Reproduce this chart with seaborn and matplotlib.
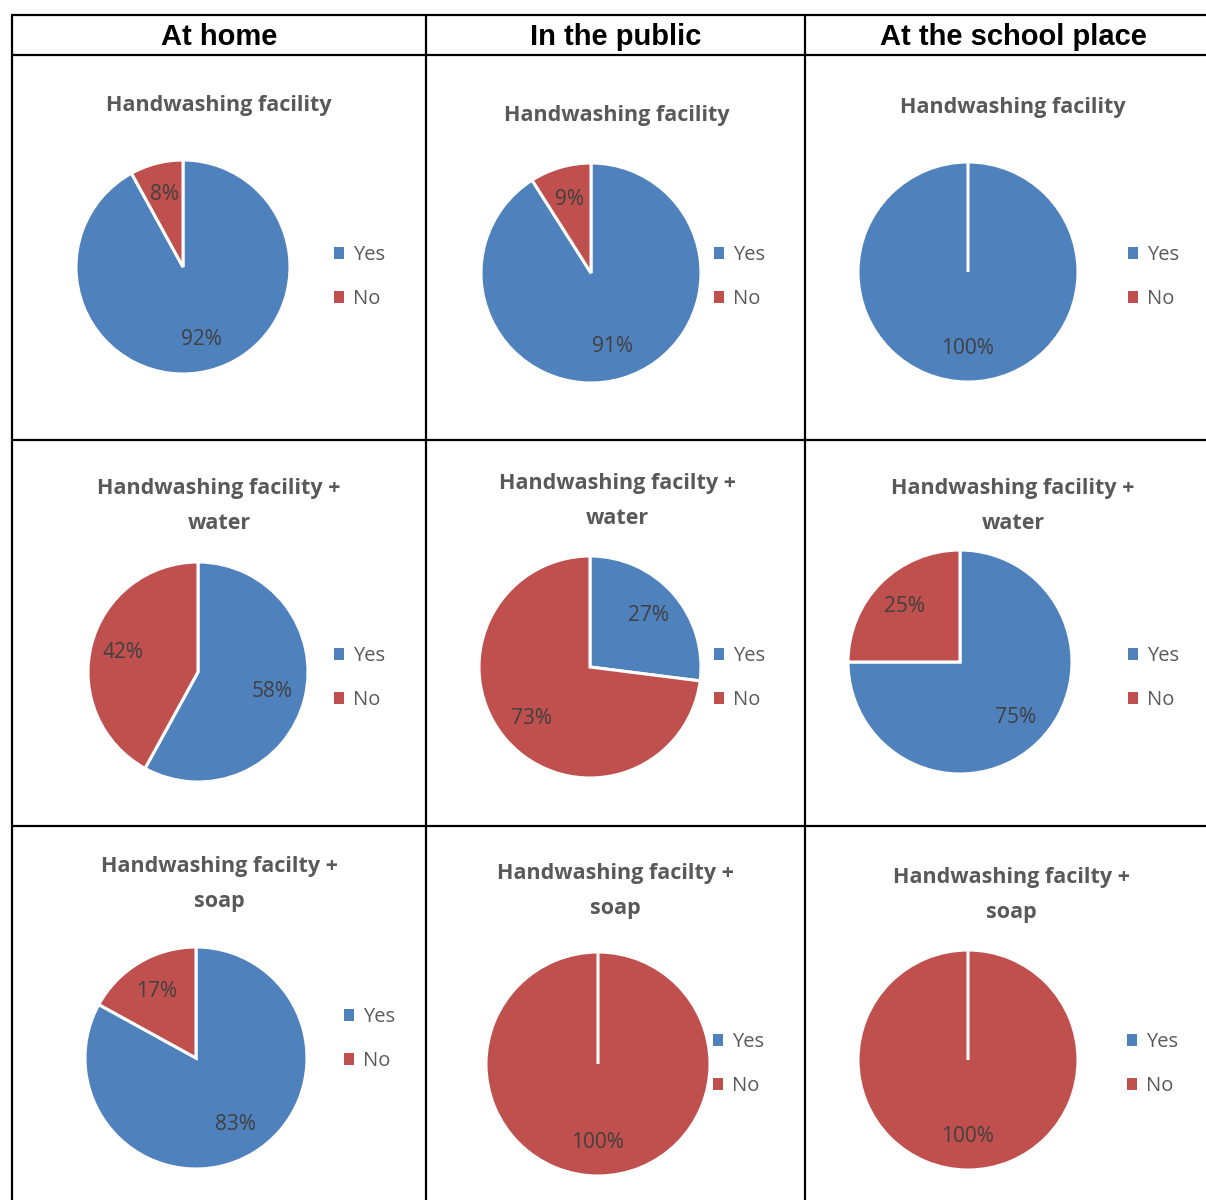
import numpy as np
import seaborn as sns
import matplotlib.pyplot as plt
from matplotlib.lines import Line2D
from matplotlib.patches import Patch

# data
places = ["At home", "In the public", "At the school place"]
answers = ["Yes", "No"]
titles = [
    ["Handwashing facility", "Handwashing facility", "Handwashing facility"],
    ["Handwashing facility +\nwater", "Handwashing facilty +\nwater", "Handwashing facility +\nwater"],
    ["Handwashing facilty +\nsoap", "Handwashing facilty +\nsoap", "Handwashing facilty +\nsoap"],
]
yes_pct = [[92, 91, 100], [58, 27, 75], [83, 0, 0]]
no_pct = [[8, 9, 0], [42, 73, 25], [17, 100, 100]]

sns.set_theme(style="white")
colors = sns.color_palette(["#4F81BD", "#C0504D"])
W, H = 1206, 1200

fig = plt.figure(figsize=(W / 100, H / 100), dpi=100)

def fx(x):
    return x / W

def fy(y):
    return 1 - y / H

# layout in pixels (pie centre, radius, title y, legend anchor)
pie_c = [[(183, 267, 107), (591, 273, 110), (968, 272, 110)],
         [(198, 672, 110), (590, 667, 111), (960, 662, 112)],
         [(196, 1058, 111), (598, 1064, 112), (968, 1060, 110)]]
title_pos = [[(219, 105), (617, 115), (1013, 107)],
             [(219, 506), (617, 501), (1013, 506)],
             [(219, 884), (615, 891), (1011, 895)]]
leg_pos = [[(334, 277), (714, 277), (1128, 277)],
           [(334, 678), (714, 678), (1128, 678)],
           [(344, 1039), (713, 1064), (1127, 1064)]]

def pct_label(p):
    return f"{p:.0f}%" if p > 0.5 else ""

for r in range(3):
    for c in range(3):
        cx, cy, rad = pie_c[r][c]
        ax = fig.add_axes([fx(cx - rad), fy(cy + rad), 2 * rad / W, 2 * rad / H])
        vals = [yes_pct[r][c], no_pct[r][c]]
        wedges, texts, autotexts = ax.pie(
            vals, colors=colors, startangle=90, counterclock=False,
            autopct=pct_label, pctdistance=0.7, radius=1,
            wedgeprops=dict(edgecolor="white", linewidth=2.2),
            textprops=dict(color="#404040", fontsize=15, family="Open Sans"))
        # keep the white divider of an empty slice visible
        for w, v in zip(wedges, vals):
            if v == 0:
                w.set_zorder(5)
        ax.set_xlim(-1, 1)
        ax.set_ylim(-1, 1)
        ax.set_aspect("equal")
        ax.axis("off")

        tx, ty = title_pos[r][c]
        fig.text(fx(tx), fy(ty), titles[r][c], ha="center", va="center",
                 fontsize=15.5, fontweight="bold", color="#595959",
                 family="Open Sans", linespacing=1.85)

        lx, ly = leg_pos[r][c]
        handles = [Patch(facecolor=colors[i], edgecolor="none") for i in range(2)]
        fig.legend(handles, answers, loc="center left",
                   bbox_to_anchor=(fx(lx), fy(ly)), frameon=False,
                   handlelength=0.5, handleheight=0.5, handletextpad=0.45,
                   labelspacing=1.2, borderpad=0, borderaxespad=0,
                   prop=dict(family="Open Sans", size=14.5), labelcolor="#595959")

# table header
header_x = [219, 616, 1013]
for c in range(3):
    fig.text(fx(header_x[c]), fy(37), places[c], ha="center", va="center",
             fontsize=21, fontweight="bold", color="black", family="Liberation Sans")

# table grid lines
lw = 1.6
for y in [15, 55, 440, 826]:
    fig.add_artist(Line2D([fx(12), 1], [fy(y), fy(y)], color="black", lw=lw))
for x in [12, 426, 805]:
    fig.add_artist(Line2D([fx(x), fx(x)], [fy(15), 0], color="black", lw=lw))

fig.savefig("out.png", dpi=100, facecolor="white")
